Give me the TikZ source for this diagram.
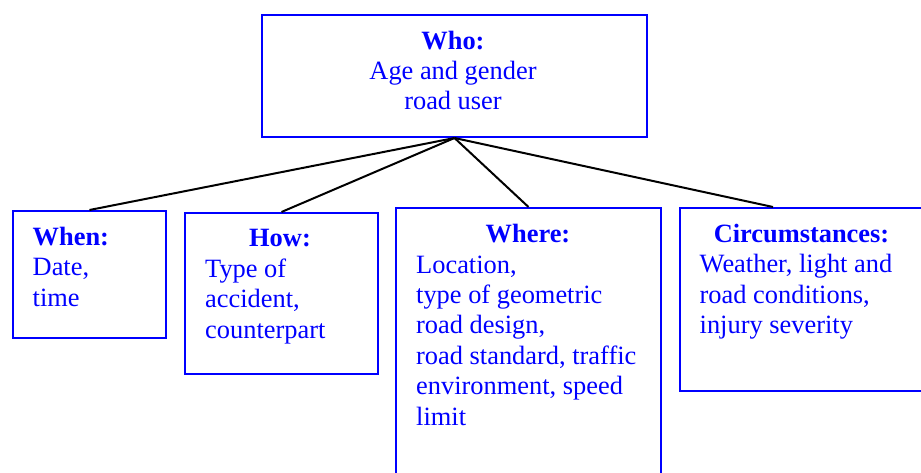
\documentclass[tikz,border=0pt]{standalone}
\usepackage{fontspec}
\setmainfont{Liberation Serif}
\definecolor{tblue}{RGB}{0,0,255}
\begin{document}
\begin{tikzpicture}[x=1pt,y=-1pt,
  box/.style={draw=tblue,line width=2pt,inner sep=0pt,anchor=north west},
  conn/.style={draw=black,line width=2pt},
  txt/.style={text=tblue,inner sep=0pt,font=\fontsize{26.4}{30.4}\selectfont},
  head/.style={txt,font=\fontsize{26.4}{30.4}\selectfont\bfseries,anchor=base},
  body/.style={txt,align=left,anchor=base west}]
\useasboundingbox (0,0) rectangle (921,473);
\clip (0,0) rectangle (921,473);
% boxes
\node[box,minimum width=385pt,minimum height=122pt] (who) at (261,14) {};
\node[box,minimum width=153pt,minimum height=127pt] (when) at (12,210) {};
\node[box,minimum width=193pt,minimum height=161pt] (how) at (184,212) {};
\node[box,minimum width=265pt,minimum height=280pt] (where) at (395,207) {};
\node[box,minimum width=260pt,minimum height=183pt] (circ) at (679,207) {};
\coordinate (circtop) at (773,207);
% connectors
\draw[conn] (who.south) -- (when.north);
\draw[conn] (who.south) -- (how.north);
\draw[conn] (who.south) -- (where.north);
\draw[conn] (who.south) -- (circtop);
% texts (multi-line nodes are placed by the baseline of their last line)
\node[head] (whoh) at (453,50) {Who:};
\node[txt,align=center,anchor=base] (whob) at (453,110) {Age and gender\\road user};
\node[head,anchor=base west] (whenh) at (32.5,246) {When:};
\node[body] (whenb) at (32.5,306) {Date,\\time};
\node[head] (howh) at (280,246.5) {How:};
\node[body] (howb) at (205,338) {Type of\\accident,\\counterpart};
\node[head] (whereh) at (528,242.5) {Where:};
\node[body] (whereb) at (416,425) {Location,\\type of geometric\\road design,\\road standard, traffic\\environment, speed\\limit};
\node[head] (circh) at (801.5,242.5) {Circumstances:};
\node[body] (circb) at (699.5,333.5) {Weather, light and\\road conditions,\\injury severity};
\end{tikzpicture}
\end{document}
